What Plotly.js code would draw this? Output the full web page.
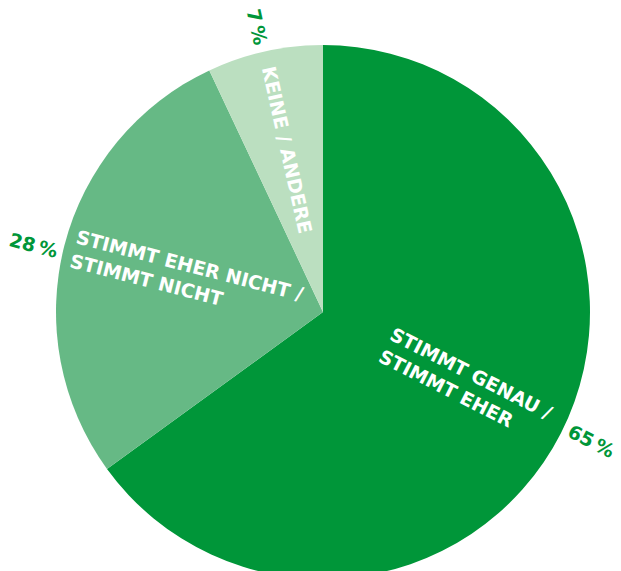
<!DOCTYPE html>
<html>
<head>
<meta charset="utf-8">
<script src="https://cdn.plot.ly/plotly-3.0.1.min.js"></script>
<style>
html,body{margin:0;padding:0;overflow:hidden;background:#fff;}
#chart{width:621px;height:600px;}
</style>
</head>
<body>
<div id="chart"></div>
<script>
// Data
const categories = ["STIMMT GENAU /<br>STIMMT EHER", "STIMMT EHER NICHT /<br>STIMMT NICHT", "KEINE / ANDERE"];
const values = [65, 28, 7];
const percentLabels = ["65\u2009%", "28\u2009%", "7\u2009%"];
const colors = ["#009639", "#66b985", "#bbdfc0"];

// Geometry (px)
const W = 621, H = 600;
const cx = 323, cy = 312, R = 267;
const labelR = [0.60, 0.525, 0.62];
const pctR = [1.115, 1.115, 1.095];
const pctShift = [-1.4, -1.3, -0.4]; // degrees

const total = values.reduce((a, b) => a + b, 0);
const annotations = [];
let cum = 0;
values.forEach((v, i) => {
  const mid = (cum + v / 2) / total * 360;
  cum += v;
  const rad = mid * Math.PI / 180;
  const dx = Math.sin(rad), dy = -Math.cos(rad);
  const ang = mid <= 180 ? mid - 90 : mid - 270;
  const lx = cx + dx * R * labelR[i], ly = cy + dy * R * labelR[i];
  annotations.push({
    x: lx / W, y: 1 - ly / H, xref: 'paper', yref: 'paper',
    text: categories[i], showarrow: false, textangle: ang,
    xanchor: 'center', yanchor: 'middle', align: 'left',
    font: {family: 'DejaVu Sans', size: 19, color: '#ffffff', weight: 'bold'}
  });
  const prad = (mid + pctShift[i]) * Math.PI / 180;
  const px = cx + Math.sin(prad) * R * pctR[i], py = cy - Math.cos(prad) * R * pctR[i];
  annotations.push({
    x: px / W, y: 1 - py / H, xref: 'paper', yref: 'paper',
    text: percentLabels[i], showarrow: false, textangle: ang,
    xanchor: 'center', yanchor: 'middle',
    font: {family: 'DejaVu Sans', size: 19, color: '#009639', weight: 'bold'}
  });
});

const trace = {
  type: 'pie',
  values: values,
  labels: categories,
  sort: false,
  direction: 'clockwise',
  rotation: 0,
  textinfo: 'none',
  hoverinfo: 'none',
  marker: {colors: colors, line: {width: 0}},
  domain: {x: [(cx - R) / W, (cx + R) / W], y: [1 - (cy + R) / H, 1 - (cy - R) / H]},
  showlegend: false
};

const layout = {
  width: W, height: H,
  margin: {l: 0, r: 0, t: 0, b: 0},
  paper_bgcolor: '#ffffff',
  showlegend: false,
  annotations: annotations
};

Plotly.newPlot('chart', [trace], layout, {displayModeBar: false, staticPlot: true});
</script>
</body>
</html>
